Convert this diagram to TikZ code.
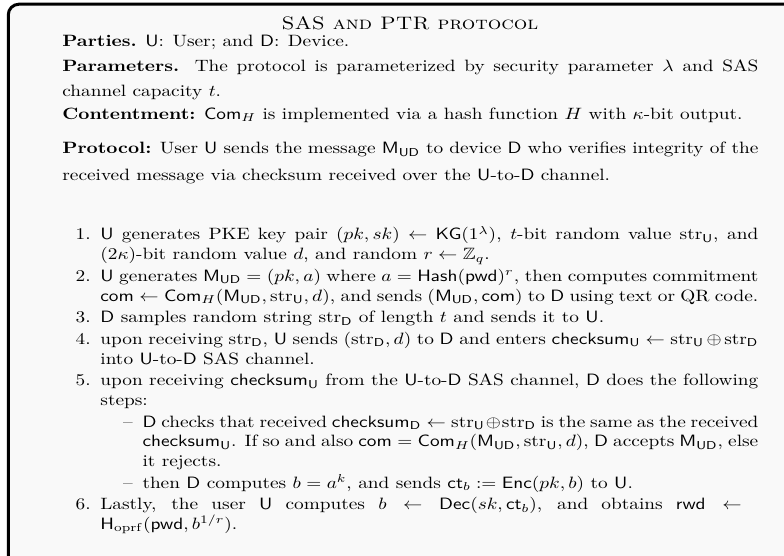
\documentclass[tikz,border=0pt]{standalone}
\usepackage{amsmath,amssymb}
\usepackage{enumitem}
\usepackage{xcolor}
\usetikzlibrary{positioning}

\newcommand{\sU}{\mathsf{U}}
\newcommand{\sD}{\mathsf{D}}
\newcommand{\strU}{\mathrm{str}_{\mathsf{U}}}
\newcommand{\strD}{\mathrm{str}_{\mathsf{D}}}
\newcommand{\MUD}{\mathsf{M}_{\mathsf{UD}}}
\newcommand{\ComH}{\mathsf{Com}_H}
\newcommand{\chk}{\mathsf{checksum}}

\begin{document}
\begin{tikzpicture}[x=0.518pt, y=-0.518pt,
    frame/.style={draw=black, line width=1.55pt, rounded corners=5.5pt, fill=black!2.5},
    titleblock/.style={anchor=base, inner sep=0pt, font=\fontsize{11}{13}\selectfont, yscale=0.85, transform shape},
    textblock/.style={anchor=base west, inner sep=0pt, yscale=0.85, transform shape}
]
    \useasboundingbox (0,0) rectangle (784,556);
    \clip (0,0) rectangle (784,556);

    % Frame
    \draw[frame] (8.3,4.2) rectangle (830,600);

    % Header
    \node[titleblock] (title) at (410,30) {\textsc{SAS and PTR protocol}};
    \node[textblock] (parties) at (62,46.5) {\begin{minipage}[t]{360.5pt}
        \textbf{Parties.} $\sU$: User; and $\sD$: Device.
    \end{minipage}};
    \node[textblock] (params) at (62,71.5) {\begin{minipage}[t]{360.5pt}\fontsize{10}{15.2}\selectfont
        \textbf{Parameters.} The protocol is parameterized by security parameter $\lambda$ and SAS channel capacity $t$.
    \end{minipage}};
    \node[textblock] (content) at (62,119.5) {\begin{minipage}[t]{360.5pt}
        \textbf{Contentment:} $\ComH$ is implemented via a hash function $H$ with $\kappa$-bit output.
    \end{minipage}};
    \node[textblock] (proto) at (62,154) {\begin{minipage}[t]{360.5pt}\fontsize{10}{15.9}\selectfont
        \textbf{Protocol:} User $\sU$ sends the message $\MUD$ to device $\sD$ who verifies integrity of the received message via checksum received over the $\sU$-to-$\sD$ channel.
    \end{minipage}};

    % Steps
    \node[textblock] (steps) at (62,240) {\begin{minipage}[t]{360.5pt}
    \begin{enumerate}[leftmargin=19.7pt, topsep=0pt, itemsep=1.2pt, parsep=0pt]
        \item $\sU$ generates PKE key pair $(pk,sk)\leftarrow\mathsf{KG}(1^\lambda)$, $t$-bit random value $\strU$, and $(2\kappa)$-bit random value $d$, and random $r\leftarrow\mathbb{Z}_q$.
        \item $\sU$ generates $\MUD=(pk,a)$ where $a=\mathsf{Hash}(\mathsf{pwd})^r$, then computes commitment $\mathsf{com}\leftarrow\ComH(\MUD,\strU,d)$, and sends $(\MUD,\mathsf{com})$ to $\sD$ using text or QR code.
        \item $\sD$ samples random string $\strD$ of length $t$ and sends it to $\sU$.
        \item upon receiving $\strD$, $\sU$ sends $(\strD,d)$ to $\sD$ and enters $\chk_{\sU}\leftarrow\strU\oplus\strD$ into $\sU$-to-$\sD$ SAS channel.
        \item upon receiving $\chk_{\sU}$ from the $\sU$-to-$\sD$ SAS channel, $\sD$ does the following steps:
        \begin{itemize}[label=--, leftmargin=21.8pt, topsep=1.2pt, itemsep=1.2pt, parsep=0pt]
            \item $\sD$ checks that received $\chk_{\sD}\leftarrow\strU\oplus\strD$ is the same as the received $\chk_{\sU}$. If so and also $\mathsf{com}=\ComH(\MUD,\strU,d)$, $\sD$ accepts $\MUD$, else it rejects.
            \item then $\sD$ computes $b=a^k$, and sends $\mathsf{ct}_b:=\mathsf{Enc}(pk,b)$ to $\sU$.
        \end{itemize}
        \item Lastly, the user $\sU$ computes $b\leftarrow\mathsf{Dec}(sk,\mathsf{ct}_b)$, and obtains $\mathsf{rwd}\leftarrow{}$\linebreak $\mathsf{H}_{\mathrm{oprf}}(\mathsf{pwd},b^{1/r})$.
    \end{enumerate}
    \end{minipage}};
\end{tikzpicture}
\end{document}
